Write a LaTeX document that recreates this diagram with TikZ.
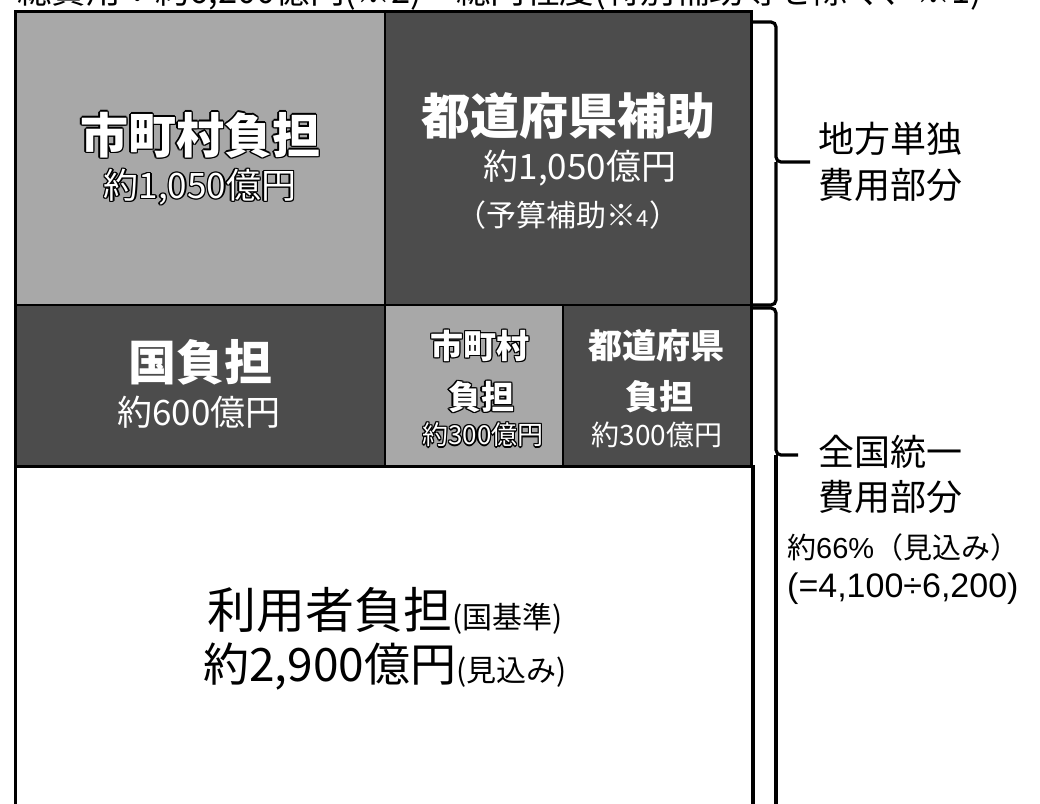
\documentclass[tikz,border=0pt]{standalone}
\usepackage{fontspec}
\setmainfont{Noto Sans CJK JP}
\newfontfamily\arial{Liberation Sans}
\definecolor{lightg}{HTML}{A8A8A8}
\definecolor{darkg}{HTML}{4C4C4C}
\newcommand\olt[1]{\leavevmode\setbox0=\hbox{#1}%
 \rlap{\color{black}\kern-1.3pt\copy0}%
 \rlap{\color{black}\kern1.3pt\copy0}%
 \rlap{\color{black}\raise1.3pt\copy0}%
 \rlap{\color{black}\lower1.3pt\copy0}%
 \rlap{\color{black}\kern-1pt\raise1pt\copy0}%
 \rlap{\color{black}\kern1pt\raise1pt\copy0}%
 \rlap{\color{black}\kern-1pt\lower1pt\copy0}%
 \rlap{\color{black}\kern1pt\lower1pt\copy0}%
 {\color{white}\box0}}
\newcommand\fs[1]{\fontsize{#1}{#1}\selectfont}
\begin{document}
\begin{tikzpicture}[x=1pt,y=-1pt,
  box/.style={draw=black,line width=1.6pt,inner sep=0pt,outer sep=0pt,anchor=north west},
  lightbox/.style={box,fill=lightg},
  darkbox/.style={box,fill=darkg},
  whitebox/.style={box,fill=white},
  wt/.style={inner sep=0pt,text=white,anchor=center},
  lbl/.style={inner sep=0pt,anchor=west,text=black},
  frame/.style={line width=3pt,line cap=rect},
  brace/.style={line width=3.2pt,rounded corners=5pt}]
\clip (0,0) rectangle (1040,803);
\fill[white] (0,0) rectangle (1040,803);
% header (cut off at the top)
\node[inner sep=0pt,anchor=base west] (head) at (17,3)
  {\fs{34.5}総費用：約6,200億円(※2)　総円程度(特別補助等を除く、※1)};
% boxes
\node[lightbox,minimum width=370pt,minimum height=294pt] (tl) at (15,11) {};
\node[darkbox,minimum width=366pt,minimum height=294pt] (tr) at (385,11) {};
\node[darkbox,minimum width=370pt,minimum height=161pt] (kuni) at (15,305) {};
\node[lightbox,minimum width=178pt,minimum height=161pt] (shi) at (385,305) {};
\node[darkbox,minimum width=189pt,minimum height=161pt] (to) at (563,305) {};
\node[whitebox,minimum width=737pt,minimum height=360pt] (user) at (15,466) {};
% thick outer frame
\draw[frame] (15,820) -- (15,11) -- (751,11) -- (751,466);
\draw[frame] (15,466) -- (753,466) -- (753,820);
% texts in boxes
\node[wt] (tlA) at (200,135) {\fs{48}\bfseries\olt{市町村負担}};
\node[wt] (tlB) at (200,187) {\fs{35}\olt{約1,050億円}};
\node[wt] (trA) at (568,116) {\fs{49}\bfseries 都道府県補助};
\node[wt] (trB) at (580,168) {\fs{35}約1,050億円};
\node[wt] (trC) at (568,215) {\fs{30}（予算補助※{\fs{22}4}）};
\node[wt] (kuniA) at (200,362) {\fs{48}\bfseries 国負担};
\node[wt] (kuniB) at (199,412) {\fs{35}約600億円};
\node[wt] (shiA) at (480,346) {\fs{33}\bfseries\olt{市町村}};
\node[wt] (shiB) at (481,397) {\fs{33}\bfseries\olt{負担}};
\node[wt] (shiC) at (483,435) {\fs{26}\olt{約300億円}};
\node[wt] (toA) at (656,346) {\fs{34}\bfseries 都道府県};
\node[wt] (toB) at (659,397) {\fs{34}\bfseries 負担};
\node[wt] (toC) at (657,435) {\fs{28}約300億円};
\node[inner sep=0pt] (userA) at (385,611) {\fs{49}利用者負担{\fs{30}(国基準)}};
\node[inner sep=0pt] (userB) at (385,667) {\fs{46}約2,900億円{\fs{30}(見込み)}};
% braces
\coordinate (b1a) at (752,22);
\coordinate (b1b) at (776,22);
\coordinate (b1m) at (776,162);
\coordinate (b1t) at (810,162);
\coordinate (b1c) at (776,305);
\coordinate (b1d) at (752,305);
\draw[brace] (b1a) -- (b1b) -- (b1m) -- (b1t);
\draw[brace] (b1m) -- (b1c) -- (b1d);
\coordinate (b2a) at (752,308);
\coordinate (b2b) at (776,308);
\coordinate (b2m) at (776,455);
\coordinate (b2t) at (798,455);
\coordinate (b2c) at (776,830);
\draw[brace] (b2a) -- (b2b) -- (b2m) -- (b2t);
\draw[brace] (b2m) -- (b2c);
% side labels
\node[lbl] (chihoA) at (818,139) {\fs{36}地方単独};
\node[lbl] (chihoB) at (818,185) {\fs{36}費用部分};
\node[lbl] (zenA) at (818,452) {\fs{36}全国統一};
\node[lbl] (zenB) at (818,497) {\fs{36}費用部分};
\node[lbl] (pct) at (787,547) {\fs{29}約{\arial 66\%}（見込み）};
\node[lbl] (calc) at (787,589) {\fs{34}\arial (=4,100÷6,200)};
\end{tikzpicture}
\end{document}
